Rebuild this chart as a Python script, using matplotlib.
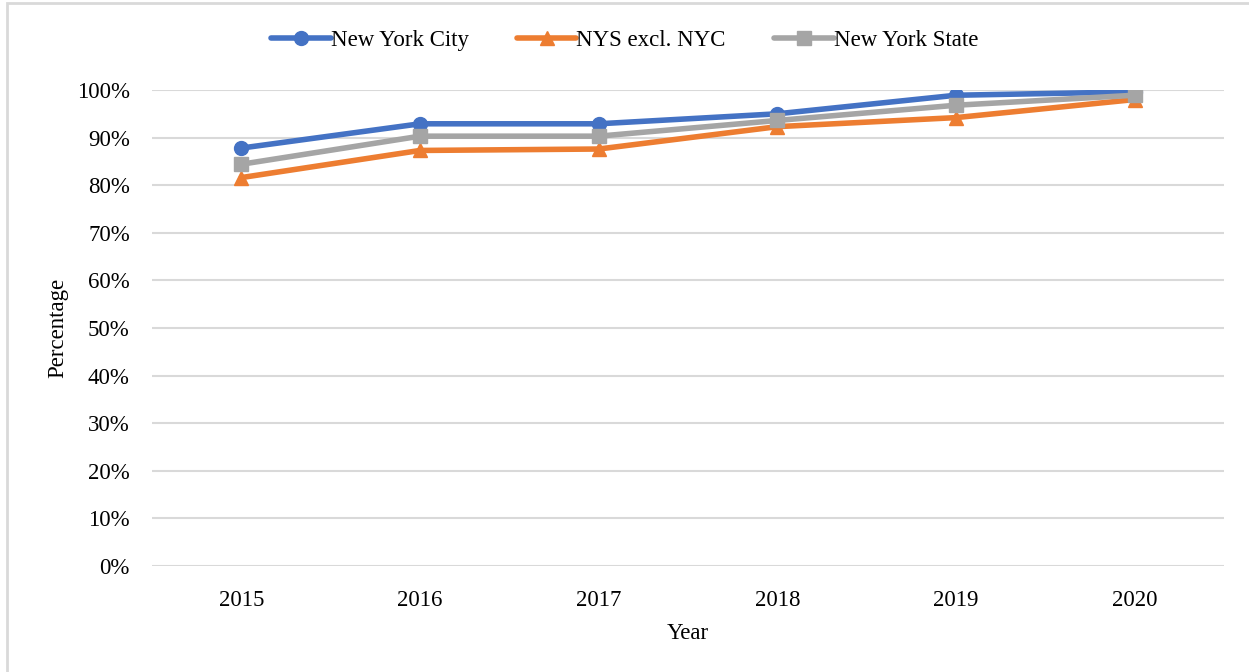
import matplotlib.pyplot as plt
from matplotlib.patches import Rectangle
from matplotlib.ticker import PercentFormatter

plt.rcParams['font.family'] = ['Liberation Serif', 'DejaVu Serif']

# Data
years = ["2015", "2016", "2017", "2018", "2019", "2020"]
nyc = [87.8, 92.9, 92.9, 95.0, 98.9, 99.6]
nys_excl_nyc = [81.6, 87.3, 87.6, 92.3, 94.2, 98.0]
nys = [84.4, 90.3, 90.3, 93.6, 96.8, 98.9]
series_names = ["New York City", "NYS excl. NYC", "New York State"]

colors = ['#4472C4', '#ED7D31', '#A5A5A5']
markers = ['o', '^', 's']

fig = plt.figure(figsize=(12.49, 6.72), dpi=100)
ax = fig.add_axes([152 / 1249, 1 - 566 / 672, (1224 - 152) / 1249, (566 - 90) / 672])

x = list(range(len(years)))
for vals, name, c, m in zip([nyc, nys_excl_nyc, nys], series_names, colors, markers):
    ax.plot(x, vals, color=c, lw=4, marker=m, markersize=10, label=name,
            solid_capstyle='round', zorder=3)

ax.set_xlim(-0.5, len(years) - 0.5)
ax.set_ylim(0, 100)
ax.set_yticks(range(0, 101, 10))
ax.yaxis.set_major_formatter(PercentFormatter(decimals=0))
ax.set_xticks(x)
ax.set_xticklabels(years)
ax.tick_params(axis='both', length=0, labelsize=16.5, colors='#000000')
ax.tick_params(axis='y', pad=16)
ax.tick_params(axis='x', pad=17)
ax.grid(axis='y', color='#D9D9D9', lw=1.5)
ax.set_axisbelow(True)
for s in ax.spines.values():
    s.set_visible(False)

ax.set_xlabel("Year", fontsize=16.5, labelpad=9)
ax.set_ylabel("Percentage", fontsize=16.5, labelpad=6)

fig.legend(loc='center', bbox_to_anchor=(0.5, 1 - 40 / 672), ncol=3, frameon=False,
           fontsize=16.5, handlelength=2.6, handletextpad=0.0, columnspacing=2.1)

# light border around the chart
fig.patches.append(Rectangle((7 / 1249, -0.01), 1.1, 1 - 3 / 672 + 0.01,
                             transform=fig.transFigure, fill=False,
                             edgecolor='#D9D9D9', lw=2))

fig.savefig("out.png", dpi=100)
